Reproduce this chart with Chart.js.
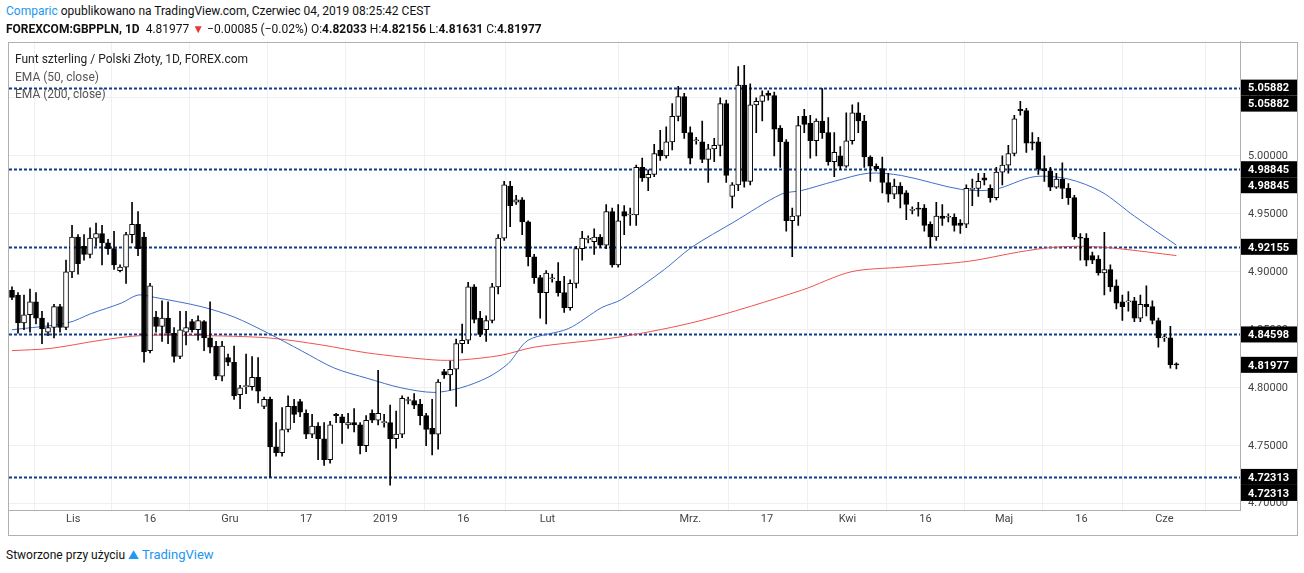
<!DOCTYPE html>
<html>
<head>
<meta charset="utf-8">
<script src="https://cdn.jsdelivr.net/npm/chart.js@4"></script>
<style>
  body { margin: 0; background: #fff; font-family: Roboto, "Open Sans", sans-serif; }
  .hdr { position: absolute; left: 6px; font-size: 12px; color: #111; white-space: nowrap; z-index: 2; }
  .legend { position: absolute; left: 15px; font-size: 12px; color: #555; white-space: nowrap; z-index: 2; }
  #frame { position: absolute; left: 8px; top: 42px; width: 1290px; height: 494px; border: 1px solid #b0b0b0; box-sizing: border-box; z-index: 1; pointer-events: none; }
  #wrap { position: absolute; left: 9px; top: 27px; width: 1288px; height: 508px; }
</style>
</head>
<body>
<div class="hdr" style="top:4px"><span style="color:#2196f3">Comparic</span> opublikowano na TradingView.com, Czerwiec 04, 2019 08:25:42 CEST</div>
<div class="hdr" style="top:22px;font-weight:bold">FOREXCOM:GBPPLN, 1D <span style="font-weight:normal">&nbsp;4.81977 <span style="color:#e53935">▼</span> −0.00085 (−0.02%) O:</span>4.82033 <span style="font-weight:normal">H:</span>4.82156 <span style="font-weight:normal">L:</span>4.81631 <span style="font-weight:normal">C:</span>4.81977</div>
<div id="wrap"><canvas id="c"></canvas></div>
<div id="frame"></div>
<div class="legend" style="top:52px;color:#222">Funt szterling / Polski Złoty, 1D, FOREX.com</div>
<div class="legend" style="top:70px">EMA (50, close)</div>
<div class="legend" style="top:87px">EMA (200, close)</div>
<div class="hdr" style="top:547px">Stworzone przy użyciu <span style="color:#2196f3;font-size:13px">⛰ TradingView</span></div>
<script>
// candles, one per session
const opens = [4.884,4.880,4.856,4.863,4.874,4.860,4.848,4.852,4.870,4.852,4.900,4.930,4.922,4.915,4.929,4.933,4.925,4.920,4.901,4.904,
4.932,4.941,4.930,4.832,4.861,4.853,4.860,4.847,4.827,4.848,4.857,4.850,4.857,4.843,4.836,4.810,4.826,4.822,4.794,4.801,
4.801,4.809,4.784,4.790,4.749,4.744,4.764,4.784,4.788,4.778,4.760,4.767,4.756,4.738,4.777,4.775,4.768,4.770,4.768,4.750,
4.778,4.772,4.770,4.770,4.756,4.760,4.789,4.789,4.786,4.776,4.765,4.760,4.814,4.811,4.816,4.838,4.841,4.887,4.860,4.850,
4.858,4.887,4.929,4.974,4.960,4.962,4.943,4.913,4.895,4.882,4.894,4.892,4.882,4.869,4.890,4.920,4.928,4.926,4.930,4.923,
4.952,4.906,4.952,4.949,4.949,4.990,4.981,4.984,5.005,5.000,5.012,5.034,5.051,5.020,5.013,5.012,4.997,5.006,5.009,5.045,
4.965,4.975,5.061,4.978,5.044,5.047,5.054,5.052,5.024,5.012,4.944,4.948,5.034,5.028,5.013,5.030,5.020,4.995,5.000,4.991,
5.013,5.037,5.030,4.999,4.991,4.989,4.977,4.967,4.974,4.968,4.953,4.955,4.955,4.941,4.930,4.948,4.947,4.947,4.942,4.941,
4.971,4.972,4.981,4.972,4.964,4.986,4.992,5.002,5.040,5.039,5.012,5.012,4.989,4.987,4.973,4.980,4.972,4.964,4.930,4.929,
4.914,4.911,4.899,4.902,4.888,4.874,4.874,4.875,4.860,4.872,4.870,4.858,4.843,4.843,4.82033];
const highs = [4.887,4.882,4.880,4.885,4.882,4.866,4.856,4.872,4.872,4.910,4.940,4.932,4.932,4.938,4.942,4.940,4.928,4.935,4.906,4.934,
4.960,4.952,4.934,4.890,4.866,4.875,4.874,4.852,4.866,4.866,4.859,4.862,4.858,4.874,4.840,4.840,4.829,4.836,4.802,4.829,
4.827,4.826,4.792,4.792,4.770,4.783,4.793,4.790,4.790,4.781,4.777,4.770,4.770,4.771,4.778,4.777,4.778,4.782,4.770,4.776,
4.781,4.815,4.777,4.785,4.780,4.793,4.792,4.795,4.790,4.778,4.790,4.807,4.816,4.823,4.842,4.855,4.891,4.889,4.866,4.862,
4.890,4.932,4.978,4.978,4.966,4.964,4.944,4.915,4.897,4.901,4.898,4.908,4.896,4.893,4.922,4.935,4.931,4.937,4.932,4.958,
4.955,4.958,4.957,4.955,4.992,4.998,4.988,5.010,5.022,5.025,5.045,5.060,5.054,5.025,5.016,5.030,5.010,5.015,5.050,5.048,
4.977,5.077,5.078,5.062,5.050,5.056,5.056,5.055,5.026,5.014,4.955,5.034,5.040,5.035,5.032,5.058,5.033,5.020,5.008,5.037,
5.044,5.046,5.035,5.000,4.993,4.999,4.985,4.980,4.977,4.970,4.956,4.960,4.958,4.943,4.960,4.958,4.950,4.950,4.945,4.975,
4.980,4.985,4.985,4.975,4.990,5.000,5.009,5.035,5.047,5.041,5.020,5.016,5.000,4.990,4.985,4.994,4.976,4.966,4.933,4.933,
4.917,4.914,4.934,4.906,4.893,4.880,4.883,4.878,4.880,4.888,4.875,4.860,4.846,4.853,4.82156];
const lows = [4.876,4.847,4.850,4.848,4.855,4.838,4.845,4.843,4.848,4.850,4.895,4.898,4.910,4.912,4.922,4.906,4.915,4.902,4.900,4.890,
4.925,4.914,4.822,4.830,4.848,4.840,4.838,4.822,4.825,4.837,4.848,4.841,4.832,4.830,4.807,4.806,4.819,4.790,4.782,4.795,
4.798,4.787,4.782,4.723,4.741,4.741,4.762,4.770,4.775,4.756,4.757,4.738,4.733,4.735,4.770,4.752,4.765,4.762,4.743,4.745,
4.770,4.768,4.766,4.716,4.748,4.757,4.786,4.782,4.768,4.750,4.742,4.747,4.808,4.798,4.784,4.830,4.838,4.856,4.844,4.840,
4.856,4.881,4.927,4.939,4.958,4.932,4.905,4.890,4.860,4.855,4.891,4.879,4.865,4.867,4.886,4.910,4.925,4.915,4.921,4.920,
4.904,4.904,4.932,4.940,4.940,4.978,4.970,4.982,4.996,4.998,5.005,5.030,5.015,4.993,5.010,4.994,4.977,4.995,5.000,4.977,
4.955,4.970,4.973,4.975,5.020,5.030,5.048,5.000,4.990,4.935,4.913,4.940,5.020,4.998,5.000,5.015,4.992,4.982,4.988,4.990,
5.010,5.020,4.990,4.978,4.987,4.968,4.960,4.963,4.955,4.945,4.950,4.948,4.935,4.921,4.927,4.940,4.943,4.935,4.933,4.938,
4.957,4.965,4.975,4.960,4.962,4.975,4.985,5.000,5.035,5.003,5.005,4.984,4.978,4.970,4.972,4.963,4.958,4.928,4.910,4.905,
4.907,4.897,4.880,4.883,4.868,4.858,4.866,4.857,4.857,4.862,4.855,4.835,4.840,4.817,4.81631];
const closes = [4.878,4.856,4.863,4.874,4.860,4.851,4.852,4.870,4.852,4.900,4.930,4.907,4.915,4.929,4.933,4.925,4.920,4.906,4.904,4.932,
4.941,4.920,4.831,4.888,4.853,4.860,4.847,4.827,4.850,4.852,4.850,4.858,4.843,4.835,4.810,4.836,4.822,4.793,4.800,4.801,
4.809,4.797,4.790,4.749,4.744,4.764,4.784,4.777,4.779,4.760,4.767,4.756,4.738,4.768,4.776,4.770,4.770,4.768,4.750,4.772,
4.772,4.778,4.770,4.756,4.760,4.791,4.789,4.785,4.776,4.764,4.760,4.805,4.811,4.816,4.838,4.841,4.887,4.859,4.846,4.858,
4.887,4.929,4.975,4.957,4.962,4.943,4.913,4.895,4.882,4.899,4.894,4.882,4.869,4.890,4.920,4.929,4.928,4.930,4.923,4.952,
4.906,4.944,4.948,4.949,4.990,4.981,4.984,5.002,5.000,5.012,5.034,5.051,5.020,4.998,5.013,4.997,5.006,5.009,5.045,4.983,
4.975,5.061,4.978,5.044,5.047,5.052,5.052,5.023,5.012,4.944,4.948,5.026,5.027,5.013,5.030,5.020,4.995,5.003,4.991,5.013,
5.037,5.030,4.999,4.991,4.989,4.977,4.967,4.974,4.967,4.958,4.953,4.954,4.940,4.930,4.948,4.946,4.947,4.940,4.940,4.972,
4.972,4.978,4.979,4.964,4.986,4.992,5.002,5.032,5.039,5.011,5.011,4.989,4.987,4.973,4.980,4.972,4.964,4.930,4.929,4.910,
4.910,4.899,4.902,4.887,4.873,4.870,4.874,4.860,4.872,4.870,4.858,4.843,4.843,4.820,4.81977];

// EMA curves read at sample points (candle index, value)
const ema50X = [0,9.3,13.2,18.2,21,23.7,31.5,37,42.7,48.2,53.7,59.3,64.8,70.3,74.8,79.3,82.7,86,92.7,98.2,101.5,108.7,113.2,120.3,128.2,131.5,137,142.7,148.2,158.2,163.7,170.3,176,181.5,187,194];
const ema50Y = [4.850,4.856,4.864,4.873,4.880,4.878,4.870,4.861,4.847,4.832,4.817,4.808,4.800,4.796,4.800,4.809,4.821,4.841,4.851,4.869,4.876,4.902,4.921,4.943,4.967,4.970,4.978,4.985,4.983,4.971,4.971,4.982,4.980,4.969,4.948,4.923];
const ema200X = [0,6.5,14.8,21.5,31.5,42.7,51.5,59.3,70.3,74.8,81.5,87,101.5,114.8,131.5,139.8,148.2,159.3,167.7,173.2,178.7,184.3,194];
const ema200Y = [4.832,4.834,4.841,4.845,4.845,4.843,4.837,4.830,4.824,4.824,4.828,4.835,4.844,4.858,4.884,4.900,4.904,4.909,4.917,4.921,4.922,4.920,4.914];

const levels = [5.05882, 4.98845, 4.92155, 4.84598, 4.72313];
const priceTicks = [4.70, 4.75, 4.80, 4.85, 4.90, 4.95, 5.00, 5.05];
const tagLabels = [[5.05882, 2], [4.98845, 2], [4.92155, 1], [4.84598, 1], [4.81977, 1], [4.72313, 2]];
const dateTickPos = [10.2, 23, 36.3, 49, 62.2, 75.2, 89.2, 113, 125.8, 139.2, 152.2, 165.3, 178.2, 192];
const dateTickText = ['Lis', '16', 'Gru', '17', '2019', '16', 'Lut', 'Mrz.', '17', 'Kwi', '16', 'Maj', '16', 'Cze'];

const bodies = opens.map((o, i) => ({ x: i, y: [o, closes[i]] }));
const wicks = highs.map((h, i) => ({ x: i, y: [lows[i], h] }));
const fills = opens.map((o, i) => closes[i] >= o ? '#ffffff' : '#000000');

const levelPlugin = {
  id: 'levels',
  beforeDatasetsDraw(chart) {
    const { ctx, chartArea: a, scales: { y } } = chart;
    ctx.save();
    ctx.strokeStyle = '#0d3c8c';
    ctx.lineWidth = 2;
    ctx.setLineDash([3, 2]);
    levels.forEach(v => {
      const py = Math.round(y.getPixelForValue(v)) + 0.5;
      ctx.beginPath(); ctx.moveTo(a.left, py); ctx.lineTo(a.right, py); ctx.stroke();
    });
    ctx.restore();
  },
  afterDraw(chart) {
    const { ctx, chartArea: a, scales: { y } } = chart;
    ctx.save();
    ctx.font = 'bold 11px Roboto, sans-serif';
    ctx.textBaseline = 'middle';
    tagLabels.forEach(([v, n]) => {
      const py = y.getPixelForValue(v);
      for (let k = 0; k < n; k++) {
        const cy = py + k * 16;
        ctx.fillStyle = '#000';
        ctx.fillRect(a.right + 1, cy - 8, 56, 16);
        ctx.fillStyle = '#fff';
        ctx.fillText(v.toFixed(5), a.right + 8, cy + 1);
      }
    });
    ctx.restore();
  }
};

new Chart(document.getElementById('c'), {
  type: 'bar',
  data: {
    datasets: [
      { type: 'line', data: ema50X.map((x, i) => ({ x, y: ema50Y[i] })), borderColor: '#3f6fc9', borderWidth: 1, pointRadius: 0, tension: 0.3, order: 3 },
      { type: 'line', data: ema200X.map((x, i) => ({ x, y: ema200Y[i] })), borderColor: '#ef5350', borderWidth: 1, pointRadius: 0, tension: 0.3, order: 3 },
      { data: wicks, backgroundColor: '#000', barThickness: 1, grouped: false, order: 2 },
      { data: bodies, backgroundColor: fills, borderColor: '#000', borderWidth: 1, borderSkipped: false, barThickness: 5, minBarLength: 1, grouped: false, order: 1 }
    ]
  },
  options: {
    responsive: true,
    maintainAspectRatio: false,
    animation: false,
    layout: { padding: 0 },
    plugins: { legend: { display: false }, tooltip: { enabled: false } },
    scales: {
      x: {
        type: 'linear', min: -0.5, max: 204.6, offset: false,
        afterBuildTicks: s => { s.ticks = dateTickPos.map(v => ({ value: v })); },
        afterFit: s => { s.height = 25; },
        ticks: { color: '#444', font: { family: 'Roboto', size: 11 }, maxRotation: 0, autoSkip: false,
          callback: (v, i) => dateTickText[i] },
        grid: { color: '#edf1f6', drawTicks: false },
        border: { color: '#b0b0b0' }
      },
      y: {
        position: 'right', min: 4.6946, max: 5.0985,
        afterBuildTicks: s => { s.ticks = priceTicks.map(v => ({ value: v })); },
        afterFit: s => { s.width = 57; },
        ticks: { color: '#444', font: { family: 'Roboto', size: 11 }, padding: 8, callback: v => v.toFixed(5) },
        grid: { color: '#edf1f6', drawTicks: false },
        border: { color: '#b0b0b0' }
      }
    }
  },
  plugins: [levelPlugin]
});
</script>
</body>
</html>
